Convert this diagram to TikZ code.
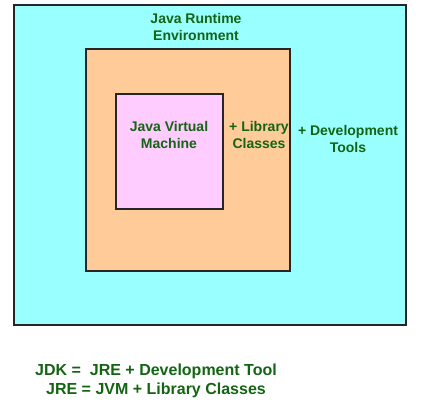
\documentclass[tikz,border=0pt]{standalone}
\usepackage{fontspec}
\setmainfont{Liberation Sans}
\usepackage{xcolor}
\definecolor{ColJre}{RGB}{153,255,255}
\definecolor{ColLib}{RGB}{255,204,153}
\definecolor{ColJvm}{RGB}{255,204,255}
\definecolor{ColText}{RGB}{20,100,20}
\tikzstyle{BoxLayer}=[rectangle,draw=black!85,line width=1.4pt,inner sep=0pt]
\tikzstyle{TextLayer}=[text=ColText,inner sep=0pt,align=center,
font=\fontsize{14}{17}\selectfont\bfseries]
\tikzstyle{TextEq}=[TextLayer,font=\fontsize{16}{19}\selectfont\bfseries]
\begin{document}
\begin{tikzpicture}[x=1pt,y=1pt]
        \useasboundingbox(0,0)rectangle(429,405);
        \node[BoxLayer,fill=ColJre,minimum width=392pt,minimum height=320pt](jre)at(210,240){};
        \node[BoxLayer,fill=ColLib,minimum width=204pt,minimum height=222pt](lib)at(188,245){};
        \node[BoxLayer,fill=ColJvm,minimum width=107pt,minimum height=115pt](jvm)at(169.5,253.5){};
        \node[TextLayer](jretext)at(196,378){Java Runtime\\Environment};
        \node[TextLayer](jvmtext)at(169,270.5){Java Virtual\\Machine};
        \node[TextLayer](libtext)at(259,270.5){+ Library\\Classes};
        \node[TextLayer](devtext)at(348,266.5){+ Development\\Tools};
        \node[TextEq](eqtext)at(156,24.5){JDK =\ \ JRE + Development Tool\\JRE = JVM + Library Classes};
    \end{tikzpicture}
\end{document}
